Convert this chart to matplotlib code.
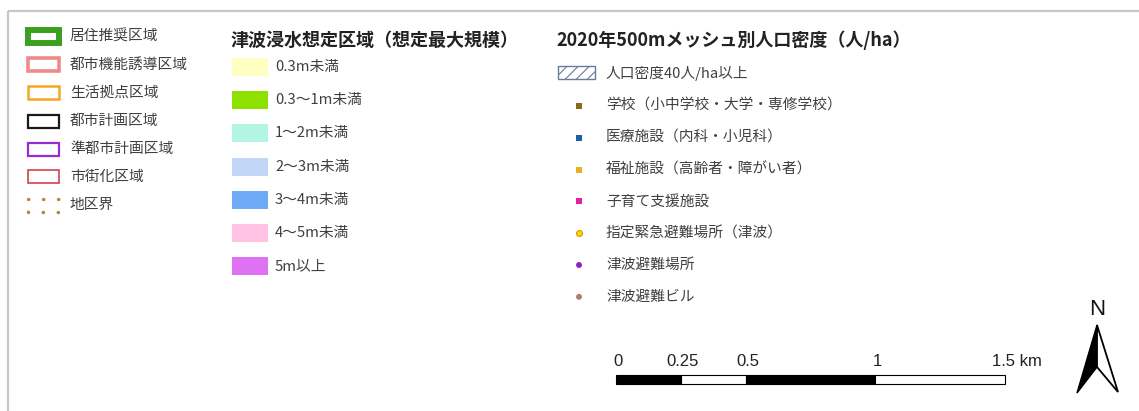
import matplotlib
matplotlib.use("Agg")
import matplotlib.pyplot as plt
from matplotlib.patches import Rectangle, Polygon

plt.rcParams['font.family'] = ['Noto Sans CJK JP', 'DejaVu Sans']
plt.rcParams['hatch.color'] = "#7a88a8"
plt.rcParams['hatch.linewidth'] = 0.8

# ── legend contents ──────────────────────────────────────────
zone_labels = ["居住推奨区域", "都市機能誘導区域", "生活拠点区域", "都市計画区域",
               "準都市計画区域", "市街化区域", "地区界"]
zone_colors = ["#3aa01e", "#f08a8a", "#f5a623", "#1a1a1a", "#9a2bd0", "#d9404a", "#b08a30"]
zone_widths = [4.3, 2.6, 1.8, 1.6, 1.6, 1.2, 2.4]

flood_title = "津波浸水想定区域（想定最大規模）"
flood_labels = ["0.3m未満", "0.3～1m未満", "1～2m未満", "2～3m未満",
                "3～4m未満", "4～5m未満", "5m以上"]
flood_colors = ["#ffffc2", "#8ee000", "#b2f5e2", "#c2d6f8", "#6eaaf6", "#ffc2e2", "#de72f2"]

pop_title = "2020年500mメッシュ別人口密度（人/ha）"
pop_hatch_label = "人口密度40人/ha以上"
facility_labels = ["学校（小中学校・大学・専修学校）", "医療施設（内科・小児科）",
                   "福祉施設（高齢者・障がい者）", "子育て支援施設",
                   "指定緊急避難場所（津波）", "津波避難場所", "津波避難ビル"]
facility_colors = ["#8b6a1a", "#1f5ea8", "#e8b02a", "#e0229e", "#f2e000", "#8a22c0", "#b07a78"]
facility_edges = ["none", "none", "none", "none", "#e09000", "none", "none"]
facility_markers = ["s", "s", "s", "s", "o", "o", "o"]

scale_km = [0, 0.25, 0.5, 1, 1.5]
scale_labels = ["0", "0.25", "0.5", "1", "1.5 km"]

# ── canvas in pixel coordinates ─────────────────────────────
fig = plt.figure(figsize=(11.39, 4.11), dpi=100)
ax = fig.add_axes([0, 0, 1, 1])
ax.set_xlim(0, 1139)
ax.set_ylim(411, 0)
ax.axis("off")

# frame (top and left edges only visible)
ax.plot([7.5, 1139], [11.5, 11.5], color="#c8c8c8", lw=1.6, solid_capstyle="butt")
ax.plot([7.5, 7.5], [11.5, 411], color="#c8c8c8", lw=1.6, solid_capstyle="butt")

TXT = "#404040"
LBL = 10.6

# column 1 — zone outlines
y0, dy = 37, 28
for i, (lab, col, lw) in enumerate(zip(zone_labels, zone_colors, zone_widths)):
    y = y0 + i * dy
    ls = (0, (0.1, 4.4)) if lab == "地区界" else "-"
    r = Rectangle((28, y - 6.5), 31, 13, facecolor="white", edgecolor=col,
                  lw=lw, linestyle=ls, capstyle="round", joinstyle="miter")
    ax.add_patch(r)
    ax.text(70, y, lab, fontsize=LBL, va="center", ha="left", color=TXT)

# column 2 — tsunami depth classes
ax.text(231, 40, flood_title, fontsize=13, fontweight="bold", va="center", ha="left", color="#222222")
y0, dy = 67, 33.2
for i, (lab, col) in enumerate(zip(flood_labels, flood_colors)):
    y = y0 + i * dy
    ax.add_patch(Rectangle((232, y - 9), 36, 18, facecolor=col, edgecolor="none"))
    ax.text(275, y, lab, fontsize=LBL, va="center", ha="left", color=TXT)

# column 3 — population density & facilities
ax.text(556, 40, pop_title, fontsize=13, fontweight="bold", va="center", ha="left", color="#222222")
ax.add_patch(Rectangle((558, 66), 37, 13, facecolor="white", edgecolor="#6a7a9a",
                       lw=1.0, hatch="///"))
ax.text(605, 73, pop_hatch_label, fontsize=LBL, va="center", ha="left", color=TXT)

y0, dy = 106, 31.8
for i, (lab, col, ec, mk) in enumerate(zip(facility_labels, facility_colors,
                                          facility_edges, facility_markers)):
    y = y0 + i * dy
    ax.scatter([579], [y], s=18, marker=mk, color=col, edgecolors=ec, linewidths=0.8)
    ax.text(606, y, lab, fontsize=LBL, va="center", ha="left", color=TXT)

# scale bar
bar_x0, px_per_km, bar_y, bar_h = 616, 259.3, 375, 9
for i in range(len(scale_km) - 1):
    xa = bar_x0 + scale_km[i] * px_per_km
    xb = bar_x0 + scale_km[i + 1] * px_per_km
    ax.add_patch(Rectangle((xa, bar_y), xb - xa, bar_h,
                           facecolor="black" if i % 2 == 0 else "white",
                           edgecolor="black", lw=0.8))
for km, lab in zip(scale_km, scale_labels):
    x = bar_x0 + km * px_per_km
    if lab.endswith("km"):
        ax.text(x - 13, 361, lab, fontsize=12, va="center", ha="left",
                family="Liberation Sans", color="#222222")
    else:
        ax.text(x + 2, 361, lab, fontsize=12, va="center", ha="center",
                family="Liberation Sans", color="#222222")

# north arrow
ax.text(1097, 309, "N", fontsize=16, va="center", ha="center",
        family="Liberation Sans", color="#111111")
ax.add_patch(Polygon([(1097, 325), (1077, 393), (1097, 367)], closed=True,
                     facecolor="black", edgecolor="black", lw=1.0))
ax.add_patch(Polygon([(1097, 325), (1118, 392), (1097, 367)], closed=True,
                     facecolor="white", edgecolor="black", lw=1.3))

fig.savefig("out.png", dpi=100)
